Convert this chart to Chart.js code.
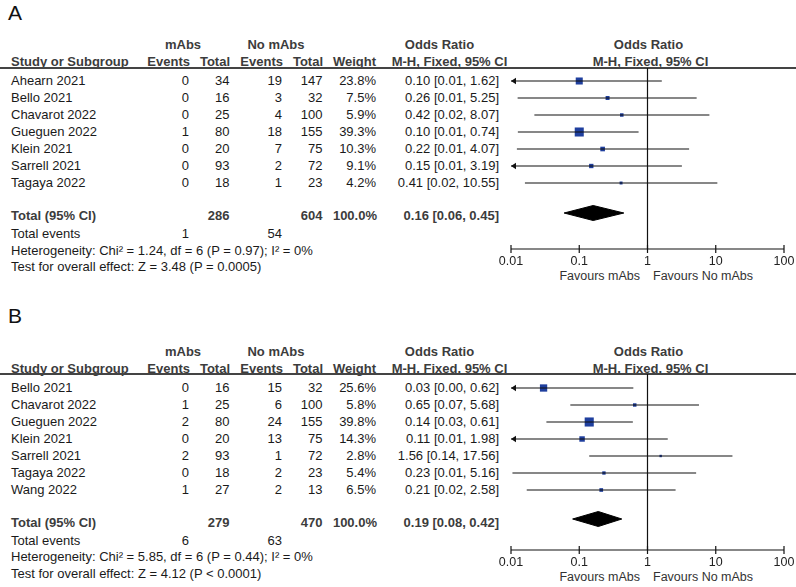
<!DOCTYPE html>
<html>
<head>
<meta charset="utf-8">
<script src="https://cdn.jsdelivr.net/npm/chart.js@4/dist/chart.umd.min.js"></script>
<style>
    body { margin: 0; background: #fff; }
    #page { position: relative; width: 796px; height: 587px; overflow: hidden;
            font-family: "Liberation Sans", Arial, sans-serif; color: #1a1a1a; }
    .t { position: absolute; white-space: nowrap; }
    canvas { position: absolute; }
</style>
</head>
<body>
<div id="page"></div>
<script>
// ============================================
// Forest plots A / B - datos
// ============================================

const axisTicks = [0.01, 0.1, 1, 10, 100];

// Panel A
const studiesA = ['Ahearn 2021', 'Bello 2021', 'Chavarot 2022', 'Gueguen 2022', 'Klein 2021', 'Sarrell 2021', 'Tagaya 2022'];
const eventsMabsA = [0, 0, 0, 1, 0, 0, 0];
const totalMabsA = [34, 16, 25, 80, 20, 93, 18];
const eventsNoA = [19, 3, 4, 18, 7, 2, 1];
const totalNoA = [147, 32, 100, 155, 75, 72, 23];
const weightA = [23.8, 7.5, 5.9, 39.3, 10.3, 9.1, 4.2];
const orA = [0.10, 0.26, 0.42, 0.10, 0.22, 0.15, 0.41];
const loA = [0.006, 0.0125, 0.022, 0.0126, 0.0122, 0.007, 0.016];
const hiA = [1.62, 5.25, 8.07, 0.74, 4.07, 3.19, 10.55];
const pooledA = [0.16, 0.06, 0.45];
const hetA = 'Heterogeneity: Chi² = 1.24, df = 6 (P = 0.97); I² = 0%';
const testA = 'Test for overall effect: Z = 3.48 (P = 0.0005)';

// Panel B
const studiesB = ['Bello 2021', 'Chavarot 2022', 'Gueguen 2022', 'Klein 2021', 'Sarrell 2021', 'Tagaya 2022', 'Wang 2022'];
const eventsMabsB = [0, 1, 2, 0, 2, 0, 1];
const totalMabsB = [16, 25, 80, 20, 93, 18, 27];
const eventsNoB = [15, 6, 24, 13, 1, 2, 2];
const totalNoB = [32, 100, 155, 75, 72, 23, 13];
const weightB = [25.6, 5.8, 39.8, 14.3, 2.8, 5.4, 6.5];
const orB = [0.03, 0.65, 0.14, 0.11, 1.56, 0.23, 0.21];
const loB = [0.004, 0.074, 0.033, 0.006, 0.14, 0.0105, 0.017];
const hiB = [0.62, 5.68, 0.61, 1.98, 17.56, 5.16, 2.58];
const pooledB = [0.19, 0.08, 0.42];
const hetB = 'Heterogeneity: Chi² = 5.85, df = 6 (P = 0.44); I² = 0%';
const testB = 'Test for overall effect: Z = 4.12 (P < 0.0001)';

// ============================================
// Layout
// ============================================
const page = document.getElementById('page');
const BLUE = '#1f3f9e';
const HEAD = '#3c3c3c';

function txt(x, y, s, align, size = 13, bold = false, color = null) {
    const L = Math.round(size * 1.4);
    const capCenter = (L - 1.117 * size) / 2 + 0.547 * size;
    const d = document.createElement('div');
    d.className = 't';
    d.textContent = s;
    d.style.fontSize = size + 'px';
    d.style.lineHeight = L + 'px';
    d.style.top = (y - capCenter) + 'px';
    if (bold) { d.style.fontWeight = 'bold'; d.style.color = HEAD; }
    if (color) d.style.color = color;
    if (align === 'left') d.style.left = x + 'px';
    else if (align === 'right') { d.style.left = (x - 300) + 'px'; d.style.width = '300px'; d.style.textAlign = 'right'; }
    else { d.style.left = (x - 150) + 'px'; d.style.width = '300px'; d.style.textAlign = 'center'; }
    page.appendChild(d);
}

const fmtCI = (o, l, h) => `${o.toFixed(2)} [${l.toFixed(2)}, ${h.toFixed(2)}]`;
const sum = arr => arr.reduce((a, b) => a + b, 0);

// flecha para IC recortado en 0.01 (punta en el centro del lienzo)
const arrowImg = document.createElement('canvas');
arrowImg.width = 12; arrowImg.height = 8;
(() => {
    const c = arrowImg.getContext('2d');
    c.fillStyle = '#111';
    c.beginPath(); c.moveTo(6, 4); c.lineTo(11, 0.8); c.lineTo(11, 7.2); c.closePath(); c.fill();
})();

function drawPlot(p, d) {
    const padTop = 10, axisH = 26, left = 481, w = 335;
    const h = (p.axis - p.rule) + padTop + axisH;
    const cv = document.createElement('canvas');
    cv.width = w; cv.height = h;
    cv.style.left = left + 'px';
    cv.style.top = (p.rule - padTop) + 'px';
    page.appendChild(cv);

    const toRow = y => (y - p.row0) / p.rowH;
    const minX = axisTicks[0];
    const datasets = [];

    // eje x con marcas a ambos lados
    datasets.push({ data: axisTicks.map(v => ({ x: v, y: toRow(p.axis) })),
        borderColor: '#111', borderWidth: 1.2, clip: false,
        pointStyle: 'line', pointRotation: 90, pointRadius: 4,
        pointBorderColor: '#111', pointBorderWidth: 1.2 });

    // línea vertical en OR = 1
    datasets.push({ data: [{ x: 1, y: toRow(p.rule) }, { x: 1, y: toRow(p.axis) }],
        borderColor: '#111', borderWidth: 1.2, pointRadius: 0 });

    // intervalos de confianza
    d.studies.forEach((s, i) => {
        const clipped = d.lo[i] < minX;
        datasets.push({
            data: [{ x: Math.max(d.lo[i], minX), y: i }, { x: d.hi[i], y: i }],
            borderColor: '#111', borderWidth: 1.2,
            pointRadius: [clipped ? 4 : 0, 0],
            pointStyle: [clipped ? arrowImg : false, false]
        });
    });

    // cuadrados (tamaño según peso)
    datasets.push({
        data: d.studies.map((s, i) => ({ x: d.or[i], y: i })),
        showLine: false, pointStyle: 'rect',
        pointRadius: d.weight.map(wt => 1.02 * Math.sqrt(wt)),
        pointBackgroundColor: BLUE, pointBorderWidth: 0
    });

    // diamante del efecto combinado
    const dy = toRow(p.diamond), hh = 7.5 / p.rowH;
    const [po, pl, ph] = d.pooled;
    datasets.push({
        data: [{ x: pl, y: dy }, { x: po, y: dy - hh }, { x: ph, y: dy }, { x: po, y: dy + hh }, { x: pl, y: dy }],
        borderColor: '#000', backgroundColor: '#000', borderWidth: 1,
        fill: 'shape', pointRadius: 0, tension: 0
    });

    new Chart(cv.getContext('2d'), {
        type: 'line',
        data: { datasets },
        options: {
            responsive: false, animation: false, events: [],
            layout: { padding: { top: padTop, left: 30, right: 32, bottom: 0 } },
            plugins: { legend: { display: false }, tooltip: { enabled: false } },
            scales: {
                x: {
                    type: 'logarithmic', min: axisTicks[0], max: axisTicks[axisTicks.length - 1],
                    afterBuildTicks: s => { s.ticks = axisTicks.map(v => ({ value: v })); },
                    afterFit: s => { s.height = axisH; },
                    ticks: { autoSkip: false, maxRotation: 0, padding: 5, color: '#222',
                             font: { family: 'Liberation Sans', size: 12.5 }, callback: v => String(v) },
                    grid: { display: false, drawTicks: false },
                    border: { display: false }
                },
                y: { type: 'linear', reverse: true, min: toRow(p.rule), max: toRow(p.axis), display: false }
            }
        }
    });
}

function panel(p, d) {
    txt(8, p.label, p.name, 'left', 21, false, '#111');
    txt(183, p.h1, 'mAbs', 'center', 13, true);
    txt(276, p.h1, 'No mAbs', 'center', 13, true);
    txt(439.5, p.h1, 'Odds Ratio', 'center', 13, true);
    txt(648.5, p.h1, 'Odds Ratio', 'center', 13, true);
    txt(11, p.h2, 'Study or Subgroup', 'left', 13, true);
    txt(190, p.h2, 'Events', 'right', 13, true);
    txt(230, p.h2, 'Total', 'right', 13, true);
    txt(283, p.h2, 'Events', 'right', 13, true);
    txt(323, p.h2, 'Total', 'right', 13, true);
    txt(376, p.h2, 'Weight', 'right', 13, true);
    txt(449.5, p.h2, 'M-H, Fixed, 95% CI', 'center', 13, true);
    txt(650.5, p.h2, 'M-H, Fixed, 95% CI', 'center', 13, true);

    const rule = document.createElement('div');
    rule.style.cssText = `position:absolute;left:0;width:796px;top:${p.rule - 1}px;height:2px;background:#444;`;
    page.appendChild(rule);

    d.studies.forEach((s, i) => {
        const y = p.row0 + i * p.rowH;
        txt(11, y, s, 'left');
        txt(189, y, String(d.evM[i]), 'right');
        txt(229.5, y, String(d.totM[i]), 'right');
        txt(282, y, String(d.evN[i]), 'right');
        txt(322.5, y, String(d.totN[i]), 'right');
        txt(376, y, d.weight[i].toFixed(1) + '%', 'right');
        txt(499, y, fmtCI(d.or[i], d.lo[i], d.hi[i]), 'right');
    });

    txt(11, p.total, 'Total (95% CI)', 'left', 13, true);
    txt(229.5, p.total, String(sum(d.totM)), 'right', 13, true);
    txt(322.5, p.total, String(sum(d.totN)), 'right', 13, true);
    txt(377, p.total, '100.0%', 'right', 13, true);
    txt(499, p.total, fmtCI(...d.pooled), 'right', 13, true);

    txt(11, p.events, 'Total events', 'left');
    txt(189, p.events, String(sum(d.evM)), 'right');
    txt(282, p.events, String(sum(d.evN)), 'right');
    txt(11, p.het, d.het, 'left');
    txt(11, p.test, d.test, 'left');

    txt(640, p.fav, 'Favours mAbs', 'right', 12.5, false, '#333');
    txt(653, p.fav, 'Favours No mAbs', 'left', 12.5, false, '#333');

    drawPlot(p, d);
}

panel(
    { name: 'A', label: 12, h1: 45, h2: 62, rule: 68, row0: 81, rowH: 17, total: 216, events: 234,
      het: 251, test: 267, axis: 249, diamond: 213, fav: 276 },
    { studies: studiesA, evM: eventsMabsA, totM: totalMabsA, evN: eventsNoA, totN: totalNoA,
      weight: weightA, or: orA, lo: loA, hi: hiA, pooled: pooledA, het: hetA, test: testA }
);
panel(
    { name: 'B', label: 315, h1: 352, h2: 369, rule: 374, row0: 388, rowH: 17, total: 523, events: 541,
      het: 557, test: 574, axis: 550, diamond: 519, fav: 577 },
    { studies: studiesB, evM: eventsMabsB, totM: totalMabsB, evN: eventsNoB, totN: totalNoB,
      weight: weightB, or: orB, lo: loB, hi: hiB, pooled: pooledB, het: hetB, test: testB }
);
</script>
</body>
</html>
